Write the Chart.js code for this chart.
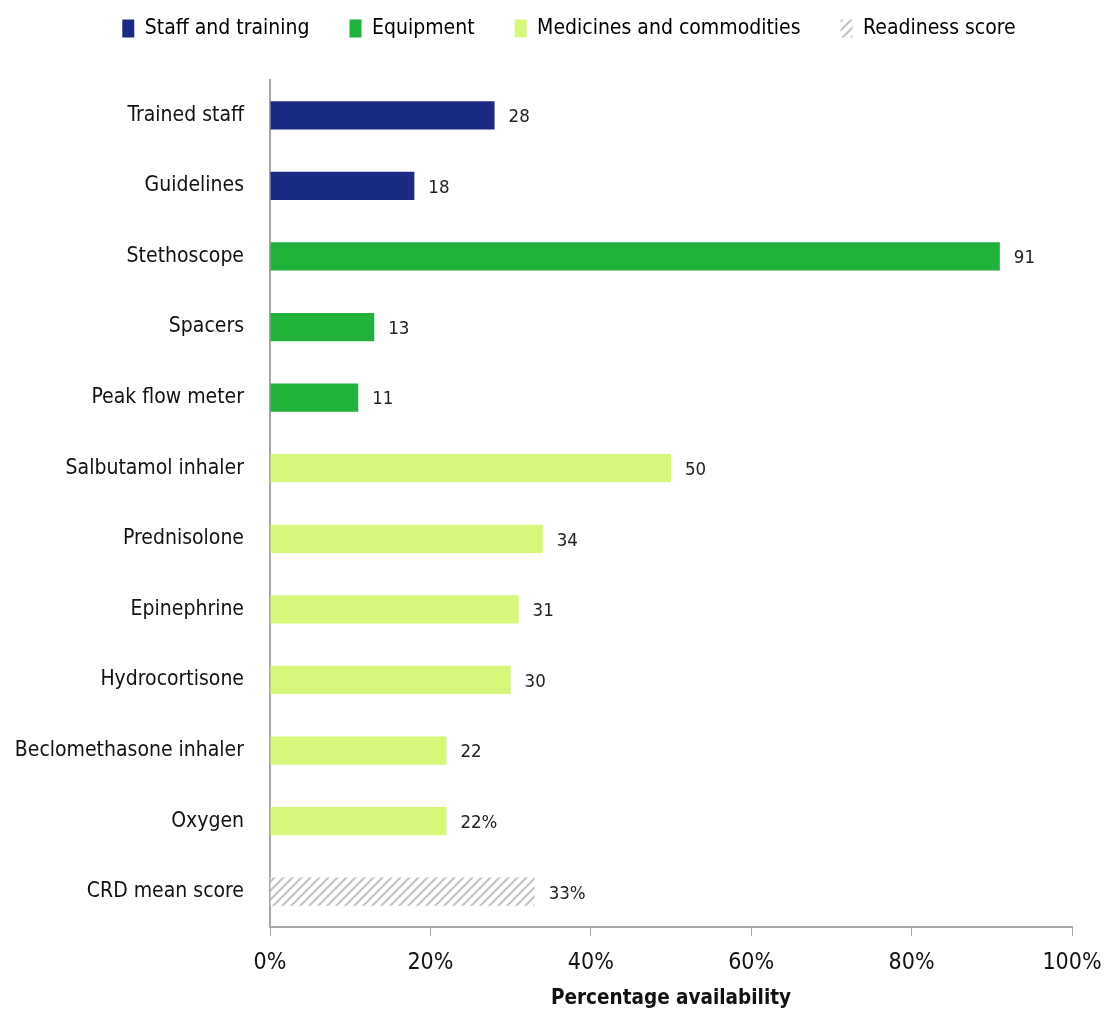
<!DOCTYPE html>
<html>
<head>
<meta charset="utf-8">
<script src="https://cdn.jsdelivr.net/npm/chart.js@4.4.1/dist/chart.umd.min.js"></script>
<style>
  html, body { margin: 0; padding: 0; background: #fff; }
  #wrap { width: 1106px; height: 1014px; }
</style>
</head>
<body>
<div id="wrap"><canvas id="chart-readiness"></canvas></div>
<script>
const categories = [
  'Trained staff', 'Guidelines', 'Stethoscope', 'Spacers', 'Peak flow meter',
  'Salbutamol inhaler', 'Prednisolone', 'Epinephrine', 'Hydrocortisone',
  'Beclomethasone inhaler', 'Oxygen', 'CRD mean score'
];
const availability = [28, 18, 91, 13, 11, 50, 34, 31, 30, 22, 22, 33];
const valueLabels  = ['28', '18', '91', '13', '11', '50', '34', '31', '30', '22', '22%', '33%'];
const groups       = ['staff', 'staff', 'equip', 'equip', 'equip', 'meds', 'meds', 'meds', 'meds', 'meds', 'meds', 'score'];
const legendNames  = ['Staff and training', 'Equipment', 'Medicines and commodities', 'Readiness score'];
const xTicks       = [0, 20, 40, 60, 80, 100];

const FONT = "'Liberation Sans Narrow', 'Arial Narrow', 'DejaVu Sans Condensed', sans-serif";
const AXIS_GREY = '#a6a6a6';

function hatch() {
  const c = document.createElement('canvas');
  c.width = 9; c.height = 9;
  const g = c.getContext('2d');
  g.fillStyle = '#fff';
  g.fillRect(0, 0, 9, 9);
  g.strokeStyle = '#c2c2c2';
  g.lineWidth = 2;
  g.beginPath();
  g.moveTo(0, 9); g.lineTo(9, 0);
  g.moveTo(-2, 2); g.lineTo(2, -2);
  g.moveTo(7, 11); g.lineTo(11, 7);
  g.stroke();
  return g.createPattern(c, 'repeat');
}

const hatchFill = hatch();
const palette = { staff: '#1b2a82', equip: '#21b23c', meds: '#d5f87a', score: hatchFill };
const legendKeys = ['staff', 'equip', 'meds', 'score'];

// numbers at the end of each bar
const valueLabelPlugin = {
  id: 'valueLabels',
  afterDatasetsDraw(chart) {
    const { ctx } = chart;
    const meta = chart.getDatasetMeta(0);
    ctx.save();
    ctx.font = `18.5px ${FONT}`;
    ctx.fillStyle = '#222';
    ctx.textBaseline = 'middle';
    meta.data.forEach((bar, i) => {
      ctx.fillText(valueLabels[i], bar.x + 14, bar.y + 2);
    });
    ctx.restore();
  },
};

// extra gap under the legend, legend nudged right over the plot
const legendTweak = {
  id: 'legendTweak',
  beforeLayout(chart) {
    const lg = chart.legend;
    if (!lg || lg._tweaked) return;
    const fit = lg.fit;
    const draw = lg.draw;
    lg.fit = function () { fit.call(this); this.height += 31; };
    lg.draw = function () {
      this.ctx.save();
      this.ctx.translate(16, 0);
      draw.call(this);
      this.ctx.restore();
    };
    lg._tweaked = true;
  },
};

const ctx = document.getElementById('chart-readiness').getContext('2d');
new Chart(ctx, {
  type: 'bar',
  data: {
    labels: categories,
    datasets: [{
      data: availability,
      backgroundColor: groups.map(g => palette[g]),
      borderWidth: 0,
      barPercentage: 0.4,
      categoryPercentage: 1,
    }],
  },
  options: {
    indexAxis: 'y',
    responsive: true,
    maintainAspectRatio: false,
    animation: false,
    layout: { padding: { top: -22, right: 0, left: 0, bottom: 0 } },
    plugins: {
      tooltip: { enabled: false },
      legend: {
        position: 'top',
        labels: {
          color: '#111',
          font: { family: FONT, size: 21 },
          boxWidth: 12,
          boxHeight: 18,
          padding: 40,
          generateLabels: () => legendKeys.map((k, i) => ({
            text: legendNames[i],
            fillStyle: palette[k],
            strokeStyle: 'transparent',
            lineWidth: 0,
            hidden: false,
          })),
        },
        onClick: () => {},
      },
    },
    scales: {
      x: {
        min: 0,
        max: 100,
        afterBuildTicks: axis => { axis.ticks = xTicks.map(v => ({ value: v })); },
        afterFit: axis => { axis.height = 87; axis.paddingRight = 34; },
        grid: { drawOnChartArea: false, drawTicks: true, tickLength: 9, color: AXIS_GREY },
        border: { color: AXIS_GREY, width: 2 },
        ticks: {
          color: '#111',
          font: { family: FONT, size: 23 },
          padding: 13,
          callback: v => v + '%',
        },
        title: {
          display: true,
          text: 'Percentage availability',
          color: '#111',
          font: { family: FONT, size: 20.5, weight: 'bold' },
          padding: { top: 0, bottom: 3 },
        },
      },
      y: {
        afterFit: axis => { axis.width = 270; },
        grid: { display: false },
        border: { color: AXIS_GREY, width: 2 },
        ticks: {
          color: '#111',
          font: { family: FONT, size: 21 },
          padding: 18,
        },
      },
    },
  },
  plugins: [valueLabelPlugin, legendTweak],
});
</script>
</body>
</html>
